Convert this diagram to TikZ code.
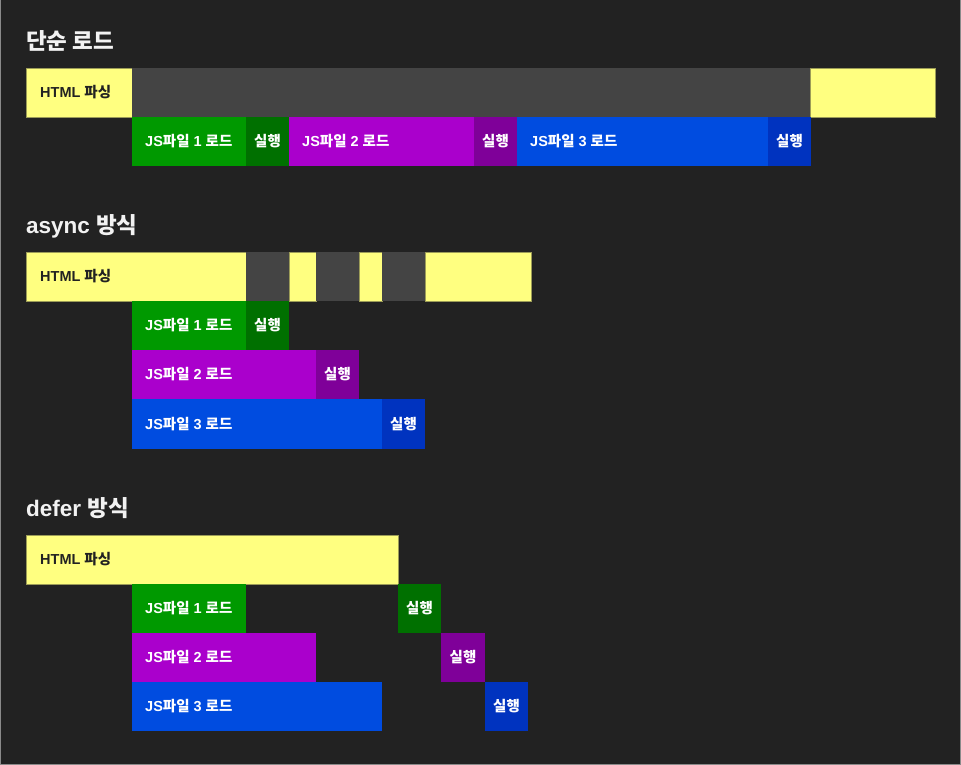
\documentclass[tikz,border=0pt]{standalone}
\usepackage{fontspec}
\setmainfont{Liberation Sans}
\newfontfamily\kr{Noto Sans CJK KR}
\definecolor{bg}{HTML}{222222}
\definecolor{frame}{HTML}{8A8A8A}
\definecolor{ylw}{HTML}{FFFF80}
\definecolor{ylwline}{HTML}{9C9C58}
\definecolor{wait}{HTML}{444444}
\definecolor{grn}{HTML}{009900}
\definecolor{grnx}{HTML}{007000}
\definecolor{prp}{HTML}{AA00CC}
\definecolor{prpx}{HTML}{7F0099}
\definecolor{blu}{HTML}{004CE0}
\definecolor{blux}{HTML}{0033BF}
\definecolor{ttl}{HTML}{F2F2F2}
\definecolor{dark}{HTML}{222222}
\newcommand\seg[6]{\node[seg,fill=#6,minimum width={#4-#2},minimum height={#5-#3}] (#1) at (#2,#3) {};}
\newcommand\yseg[5]{\node[seg,fill=ylw,draw=ylwline,line width=0.5pt,minimum width={#4-#2},minimum height={#5-#3}] (#1) at (#2,#3) {};}
\begin{document}
\begin{tikzpicture}[x=1pt,y=-1pt,
  seg/.style={rectangle,inner sep=0pt,outer sep=0pt,anchor=north west},
  ttlstyle/.style={anchor=west,inner sep=0pt,text=ttl,font=\bfseries\fontsize{22.5}{26}\selectfont},
  lbl/.style={anchor=west,inner sep=0pt,text=white,font=\bfseries\fontsize{14.5}{17}\selectfont},
  hlbl/.style={lbl,text=dark},
  xlbl/.style={anchor=center,inner sep=0pt,text=white,font=\bfseries\fontsize{14.5}{17}\selectfont}]
\fill[bg] (0,0) rectangle (961,765);
\useasboundingbox (0,0) rectangle (961,765);
\draw[frame,line width=1.2pt] (0.6,0) -- (0.6,764.4) -- (960.4,764.4) -- (960.4,0);

% ---------- 단순 로드 ----------
\node[ttlstyle] (t1) at (26,41) {{\kr 단순 로드}};
\yseg{a1}{26}{68}{132}{117}
\seg{a2}{132}{68}{810}{117}{wait}
\yseg{a3}{810}{68}{935}{117}
\node[hlbl] (a1t) at ([xshift=14pt]a1.west) {HTML {\kr 파싱}};
\seg{b1}{132}{117}{246}{166}{grn}
\seg{b2}{246}{117}{289}{166}{grnx}
\seg{b3}{289}{117}{474}{166}{prp}
\seg{b4}{474}{117}{517}{166}{prpx}
\seg{b5}{517}{117}{768}{166}{blu}
\seg{b6}{768}{117}{811}{166}{blux}
\node[lbl] (b1t) at ([xshift=13pt]b1.west) {JS{\kr 파일} 1 {\kr 로드}};
\node[xlbl] (b2t) at (b2.center) {{\kr 실행}};
\node[lbl] (b3t) at ([xshift=13pt]b3.west) {JS{\kr 파일} 2 {\kr 로드}};
\node[xlbl] (b4t) at (b4.center) {{\kr 실행}};
\node[lbl] (b5t) at ([xshift=13pt]b5.west) {JS{\kr 파일} 3 {\kr 로드}};
\node[xlbl] (b6t) at (b6.center) {{\kr 실행}};

% ---------- async 방식 ----------
\node[ttlstyle] (t2) at (26,226) {async {\kr 방식}};
\yseg{c1}{26}{252}{246}{301}
\seg{c2}{246}{252}{289}{301}{wait}
\yseg{c3}{289}{252}{316}{301}
\seg{c4}{316}{252}{359}{301}{wait}
\yseg{c5}{359}{252}{382}{301}
\seg{c6}{382}{252}{425}{301}{wait}
\yseg{c7}{425}{252}{531}{301}
\node[hlbl] (c1t) at ([xshift=14pt]c1.west) {HTML {\kr 파싱}};
\seg{d1}{132}{301}{246}{350}{grn}
\seg{d2}{246}{301}{289}{350}{grnx}
\seg{e1}{132}{350}{316}{399}{prp}
\seg{e2}{316}{350}{359}{399}{prpx}
\seg{f1}{132}{399}{382}{449}{blu}
\seg{f2}{382}{399}{425}{449}{blux}
\node[lbl] (d1t) at ([xshift=13pt]d1.west) {JS{\kr 파일} 1 {\kr 로드}};
\node[xlbl] (d2t) at (d2.center) {{\kr 실행}};
\node[lbl] (e1t) at ([xshift=13pt]e1.west) {JS{\kr 파일} 2 {\kr 로드}};
\node[xlbl] (e2t) at (e2.center) {{\kr 실행}};
\node[lbl] (f1t) at ([xshift=13pt]f1.west) {JS{\kr 파일} 3 {\kr 로드}};
\node[xlbl] (f2t) at (f2.center) {{\kr 실행}};

% ---------- defer 방식 ----------
\node[ttlstyle] (t3) at (26,508) {defer {\kr 방식}};
\yseg{g1}{26}{535}{398}{584}
\node[hlbl] (g1t) at ([xshift=14pt]g1.west) {HTML {\kr 파싱}};
\seg{h1}{132}{584}{246}{633}{grn}
\seg{h2}{398}{584}{441}{633}{grnx}
\seg{i1}{132}{633}{316}{682}{prp}
\seg{i2}{441}{633}{485}{682}{prpx}
\seg{j1}{132}{682}{382}{731}{blu}
\seg{j2}{485}{682}{528}{731}{blux}
\node[lbl] (h1t) at ([xshift=13pt]h1.west) {JS{\kr 파일} 1 {\kr 로드}};
\node[xlbl] (h2t) at (h2.center) {{\kr 실행}};
\node[lbl] (i1t) at ([xshift=13pt]i1.west) {JS{\kr 파일} 2 {\kr 로드}};
\node[xlbl] (i2t) at (i2.center) {{\kr 실행}};
\node[lbl] (j1t) at ([xshift=13pt]j1.west) {JS{\kr 파일} 3 {\kr 로드}};
\node[xlbl] (j2t) at (j2.center) {{\kr 실행}};
\end{tikzpicture}
\end{document}
